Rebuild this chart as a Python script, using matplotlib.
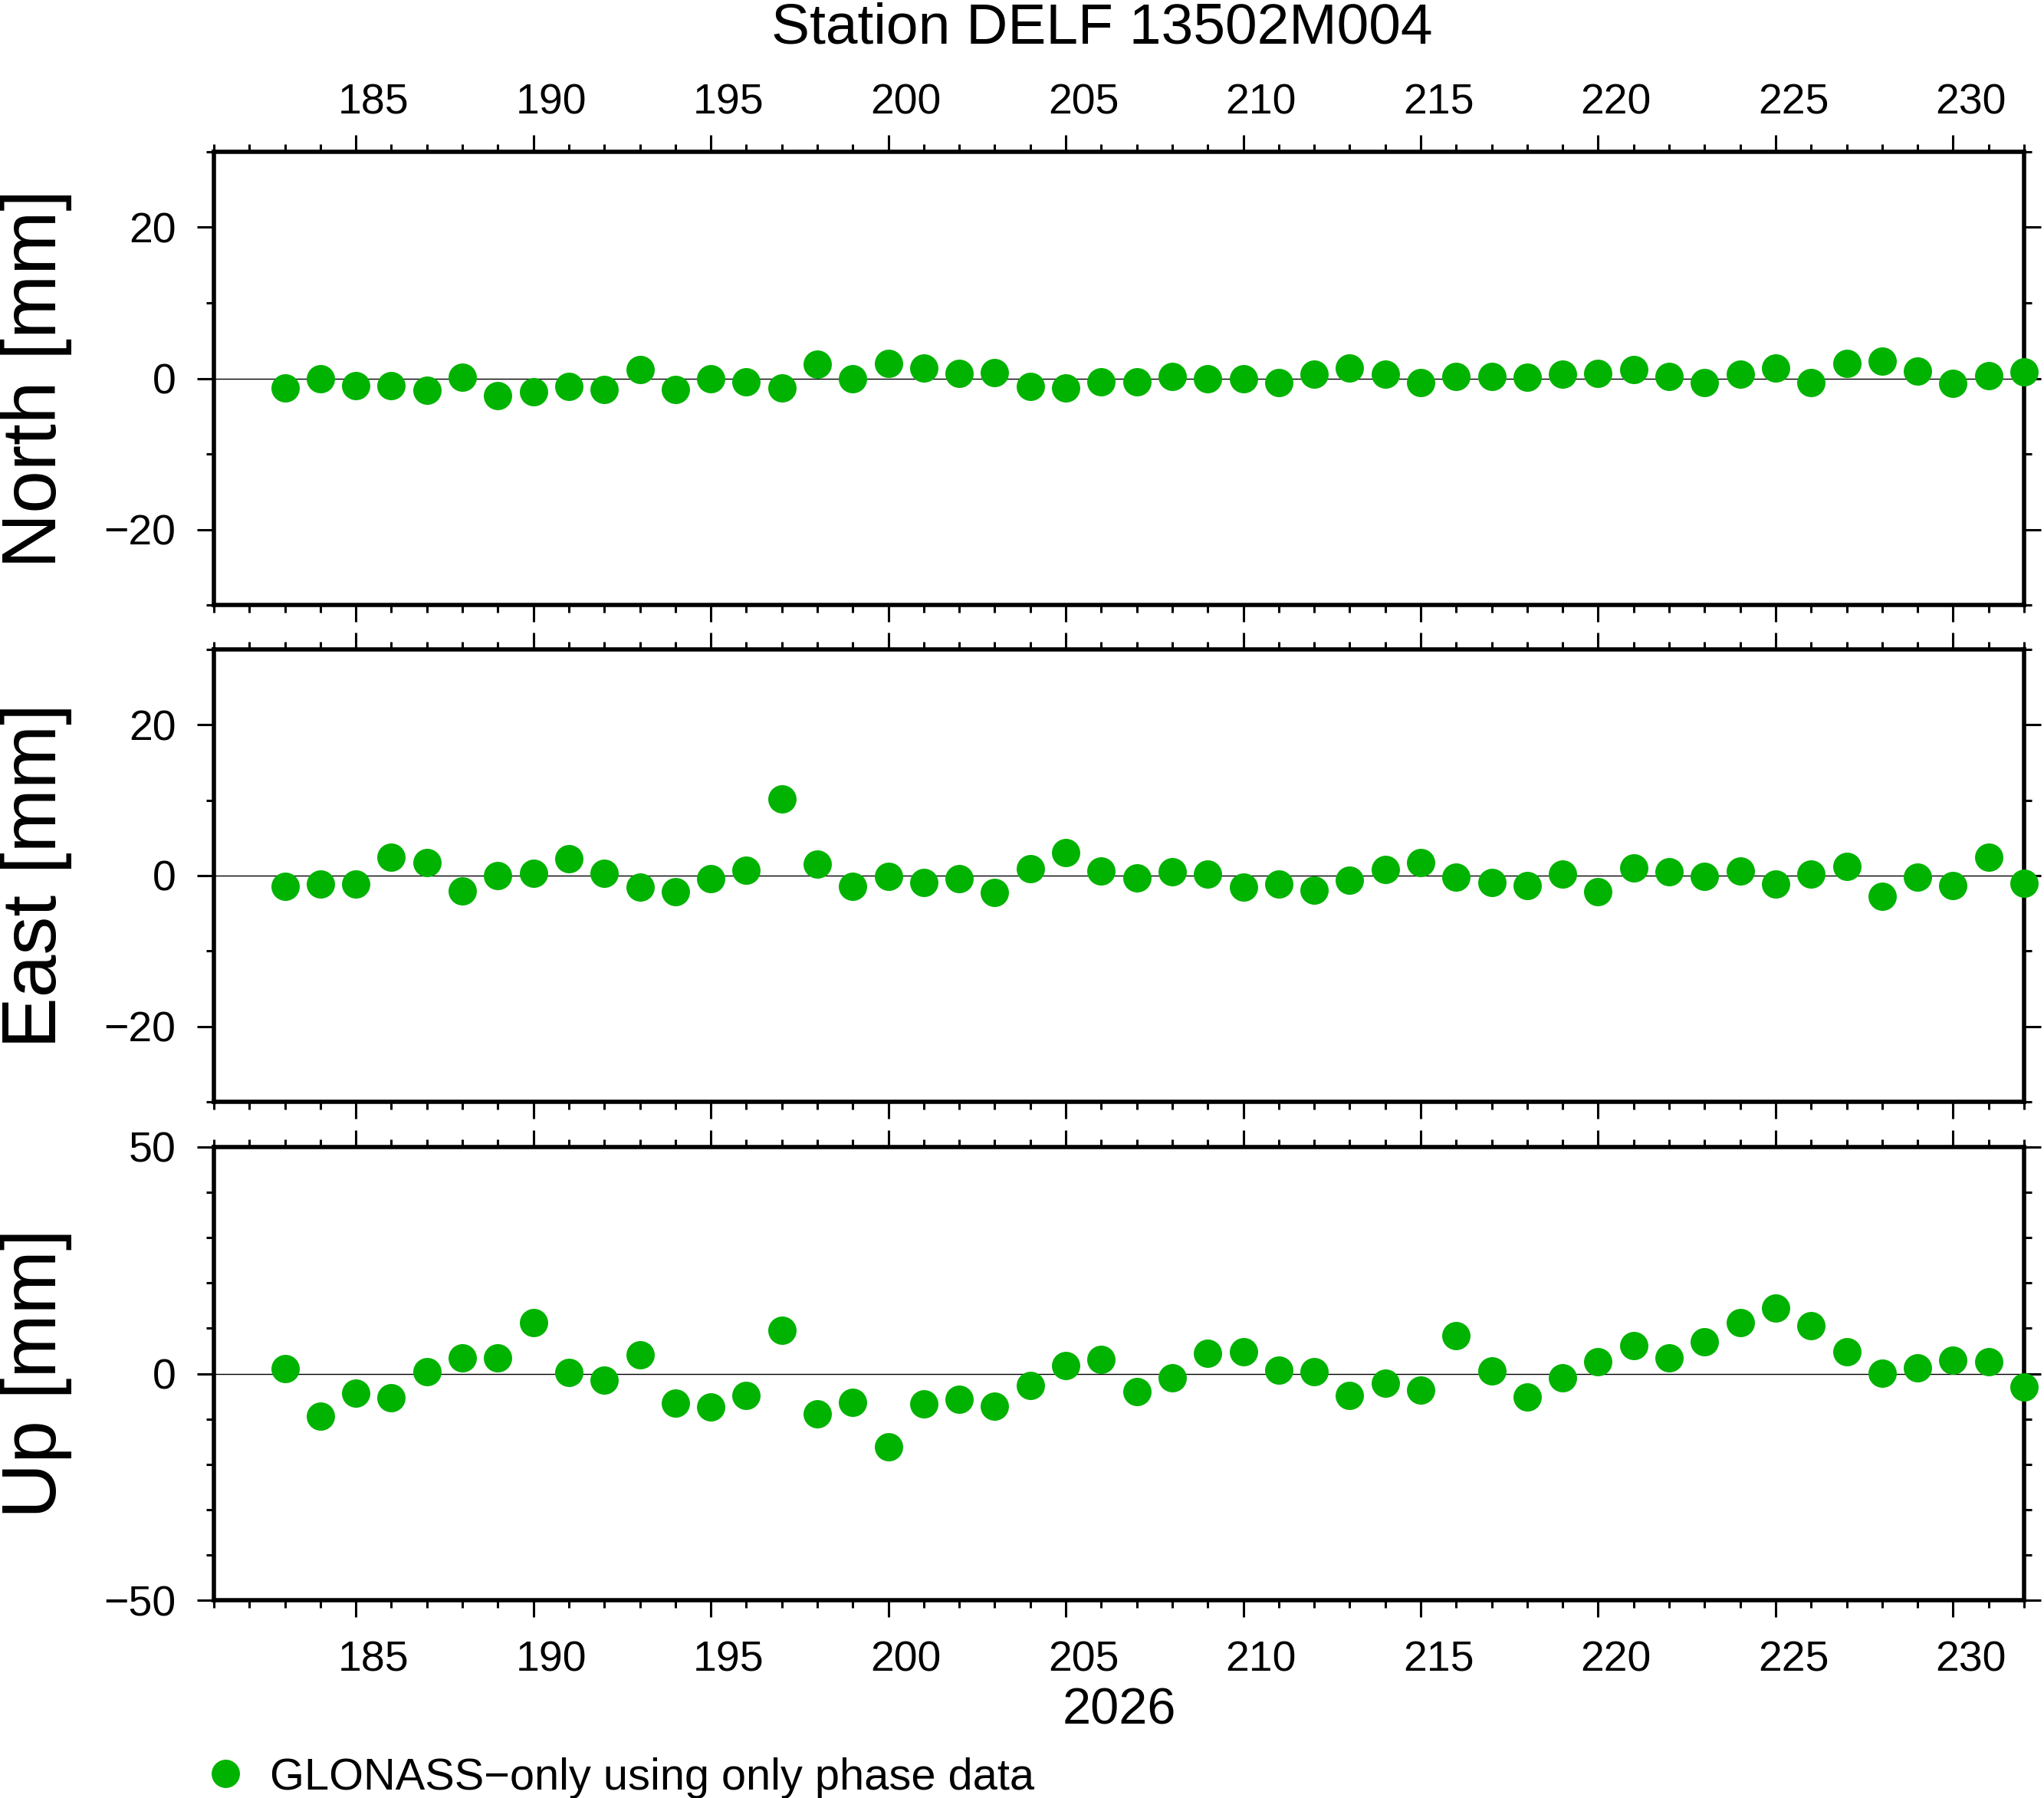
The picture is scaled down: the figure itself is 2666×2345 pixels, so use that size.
import matplotlib
matplotlib.use("Agg")
import matplotlib.pyplot as plt
import matplotlib.transforms as mtransforms
from matplotlib.ticker import MultipleLocator

plt.rcParams['font.family'] = ['Liberation Sans', 'DejaVu Sans']

title = "Station DELF 13502M004"
year_label = "2026"
legend_label = "GLONASS\u2212only using only phase data"
panel_labels = ["North [mm]", "East [mm]", "Up [mm]"]

days = list(range(183, 233))

north = [-1.3, 0.0, -1.0, -1.0, -1.6, 0.2, -2.3, -1.75, -1.1, -1.5,
         1.2, -1.5, 0.0, -0.5, -1.3, 1.9, 0.0, 2.0, 1.4, 0.7,
         0.8, -1.1, -1.3, -0.5, -0.5, 0.3, 0.0, -0.1, -0.6, 0.6,
         1.4, 0.6, -0.6, 0.3, 0.3, 0.2, 0.6, 0.7, 1.2, 0.3,
         -0.6, 0.6, 1.4, -0.6, 2.0, 2.3, 1.0, -0.7, 0.4, 0.85]

east = [-1.4, -1.1, -1.1, 2.4, 1.7, -2.0, 0.0, 0.3, 2.2, 0.3,
        -1.5, -2.1, -0.4, 0.7, 10.2, 1.5, -1.4, -0.1, -0.9, -0.4,
        -2.2, 0.9, 3.1, 0.6, -0.3, 0.5, 0.2, -1.5, -1.1, -1.9,
        -0.6, 0.8, 1.7, -0.2, -0.9, -1.3, 0.2, -2.1, 1.0, 0.5,
        -0.1, 0.6, -1.1, 0.2, 1.2, -2.7, -0.2, -1.3, 2.4, -1.0]

up = [1.1, -9.4, -4.3, -5.4, 0.4, 3.4, 3.4, 11.3, 0.3, -1.5,
      4.1, -6.5, -7.3, -4.8, 9.6, -8.8, -6.3, -16.1, -6.7, -5.6,
      -7.2, -2.7, 1.8, 3.1, -3.9, -0.9, 4.5, 4.8, 0.8, 0.5,
      -4.8, -2.1, -3.7, 8.4, 0.6, -5.2, -1.0, 2.7, 6.2, 3.5,
      7.1, 11.2, 14.4, 10.6, 4.8, 0.1, 1.3, 2.9, 2.6, -2.9]

series = [north, east, up]
ylims = [(-30, 30), (-30, 30), (-50, 50)]
ymajor = [20, 20, 50]
yminor = [10, 10, 10]
xlim = (181, 232)

green = '#00b300'

W, H = 2666, 2345
DPI = 200
fig = plt.figure(figsize=(W / DPI, H / DPI), dpi=DPI)

left = 279 / W
width = (2640 - 279) / W
panel_px = [(198, 789), (847, 1437), (1496, 2087)]

# day annotations are centred on the day interval (half a day right of tick)
half_day_in = (width * W / DPI) / (xlim[1] - xlim[0]) * 0.5
shift = mtransforms.ScaledTranslation(half_day_in, 0, fig.dpi_scale_trans)

MS = 13.3

for i, (vals, yl, ymj, ymn, lab, (t, b)) in enumerate(
        zip(series, ylims, ymajor, yminor, panel_labels, panel_px)):
    ax = fig.add_axes([left, 1 - b / H, width, (b - t) / H])
    ax.set_xlim(*xlim)
    ax.set_ylim(*yl)
    ax.axhline(0, color='black', lw=0.5, zorder=1)
    ax.plot(days, vals, 'o', color=green, ms=MS, mec='none',
            clip_on=False, zorder=5)
    for s in ax.spines.values():
        s.set_linewidth(2.0)
    ax.xaxis.set_major_locator(MultipleLocator(5))
    ax.xaxis.set_minor_locator(MultipleLocator(1))
    ax.yaxis.set_major_locator(MultipleLocator(ymj))
    ax.yaxis.set_minor_locator(MultipleLocator(ymn))
    ax.tick_params(which='both', direction='out', top=True, bottom=True,
                   left=True, right=True, labelsize=20, width=1.1)
    ax.tick_params(which='major', length=7.9)
    ax.tick_params(which='minor', length=3.6)
    ax.tick_params(axis='x', labeltop=(i == 0), labelbottom=(i == 2))
    ax.tick_params(axis='x', which='major', pad=(5.5 if i == 0 else 11))
    ax.tick_params(axis='y', labelleft=True, labelright=False, pad=10)
    for tk in ax.xaxis.get_major_ticks():
        tk.label1.set_transform(tk.label1.get_transform() + shift)
        tk.label2.set_transform(tk.label2.get_transform() + shift)
    yc = 1 - (t + b) / 2 / H
    fig.text(73 / W, yc, lab, rotation=90, rotation_mode='anchor',
             ha='center', va='baseline', fontsize=36)

fig.text(845.5 / 1568, 1 - 33 / 1379, title, ha='center', va='baseline',
         fontsize=27)
fig.text(left + width / 2, 1 - 1322 / 1379, year_label, ha='center',
         va='baseline', fontsize=24)

fig.lines.append(matplotlib.lines.Line2D([173 / 1568], [1 - 1360 / 1379],
                                         marker='o', color=green, ms=MS,
                                         mec='none', ls='none',
                                         transform=fig.transFigure))
fig.text(207 / 1568, 1 - 1360 / 1379, legend_label, ha='left',
         va='center_baseline', fontsize=20.8)

fig.savefig('out.png', dpi=DPI)
